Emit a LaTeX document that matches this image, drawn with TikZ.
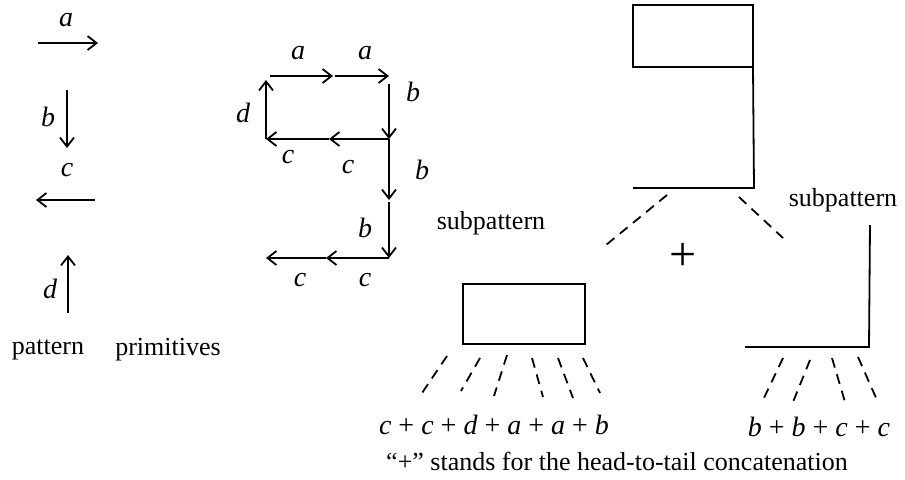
\documentclass[tikz,border=0pt]{standalone}
\usepackage{fontspec}
\setmainfont{Liberation Serif}
\usetikzlibrary{arrows.meta}
\begin{document}
\begin{tikzpicture}[x=0.5pt,y=-0.5pt, line width=0.9pt,
  arr/.style={-{Straight Barb[length=4.5pt,width=7pt,line width=0.9pt]}},
  lbl/.style={font=\fontsize{14}{15}\selectfont\itshape, inner sep=0pt},
  txt/.style={font=\fontsize{13}{15}\selectfont, inner sep=0pt},
  dsh/.style={dash pattern=on 5pt off 3.5pt},
  fml/.style={font=\fontsize{14}{15}\selectfont, inner sep=0pt}]
\useasboundingbox (0,0) rectangle (905,479);

% primitives
\coordinate (a1) at (38,43); \coordinate (a2) at (98,43);
\draw[arr] (a1) -- (a2);
\node[lbl] (la) at (66,20) {a};
\coordinate (b1) at (67,90); \coordinate (b2) at (67,148);
\draw[arr] (b1) -- (b2);
\node[lbl] (lb) at (48,117) {b};
\node[lbl] (lc) at (67,170) {c};
\coordinate (c1) at (95,200); \coordinate (c2) at (36,200);
\draw[arr] (c1) -- (c2);
\coordinate (d1) at (68,313); \coordinate (d2) at (68,255);
\draw[arr] (d1) -- (d2);
\node[lbl] (ld) at (50,289) {d};
\node[txt] (pat) at (48,350) {pattern};
\node[txt] (prim) at (168,350) {primitives};

% pattern
\coordinate (TL) at (266,76); \coordinate (TM) at (333,76); \coordinate (TR) at (389,76);
\coordinate (ML) at (266,139); \coordinate (MM) at (329,139); \coordinate (MR) at (389,139);
\coordinate (B1) at (389,200); \coordinate (BR) at (389,258);
\coordinate (BM) at (326,258); \coordinate (BL) at (266,258);
\draw[arr,shorten <=2pt] (TL) -- (TM);
\draw[arr,shorten <=1pt] (TM) -- (TR);
\draw[arr,shorten <=4pt] (TR) -- (MR);
\draw[arr] (MR) -- (MM);
\draw[arr] (MM) -- (ML);
\draw[arr,shorten >=2pt] (ML) -- (TL);
\draw[arr] (MR) -- (B1);
\draw[arr,shorten <=1pt] (B1) -- (BR);
\draw[arr] (BR) -- (BM);
\draw[arr] (BM) -- (BL);
\node[lbl] (pa1) at (298,53) {a};
\node[lbl] (pa2) at (365,53) {a};
\node[lbl] (pb1) at (413,92) {b};
\node[lbl] (pd) at (243,113) {d};
\node[lbl] (pc1) at (288,157) {c};
\node[lbl] (pc2) at (348,167) {c};
\node[lbl] (pb2) at (422,170) {b};
\node[lbl] (pb3) at (365,228) {b};
\node[lbl] (pc3) at (300,280) {c};
\node[lbl] (pc4) at (365,280) {c};

% whole shape
\draw (633,67) -- (633,5) -- (753,5) -- (753,67) -- cycle;
\draw (753,67) -- (754,188) -- (633,188);
\coordinate (w1) at (667,195); \coordinate (w2) at (606,245);
\coordinate (w3) at (739,197); \coordinate (w4) at (783,238);
\draw[dsh] (w1) -- (w2);
\draw[dsh] (w3) -- (w4);
\node[font=\fontsize{24}{24}\selectfont, inner sep=0pt] (plus) at (683,257) {+};
\node[txt] (sp1) at (491,223) {subpattern};
\node[txt] (sp2) at (843,200) {subpattern};

% left subpattern
\draw (463,284) rectangle (585,344);
\draw[dsh] (447,356) -- (422,393);
\draw[dsh] (480,358) -- (461,391);
\draw[dsh] (507,355) -- (494,396);
\draw[dsh] (532,358) -- (543,397);
\draw[dsh] (558,358) -- (573,398);
\draw[dsh] (583,358) -- (600,393);
\node[fml] (f1) at (494,425) {\textit{c} + \textit{c} + \textit{d} + \textit{a} + \textit{a} + \textit{b}};

% right subpattern
\draw (870,225) -- (869,347) -- (745,347);
\draw[dsh] (783,358) -- (763,400);
\draw[dsh] (810,360) -- (793,402);
\draw[dsh] (832,358) -- (845,402);
\draw[dsh] (858,357) -- (877,400);
\node[fml] (f2) at (819,427) {\textit{b} + \textit{b} + \textit{c} + \textit{c}};

\node[txt] (cap) at (617,461) {“+” stands for the head-to-tail concatenation};
\end{tikzpicture}
\end{document}
